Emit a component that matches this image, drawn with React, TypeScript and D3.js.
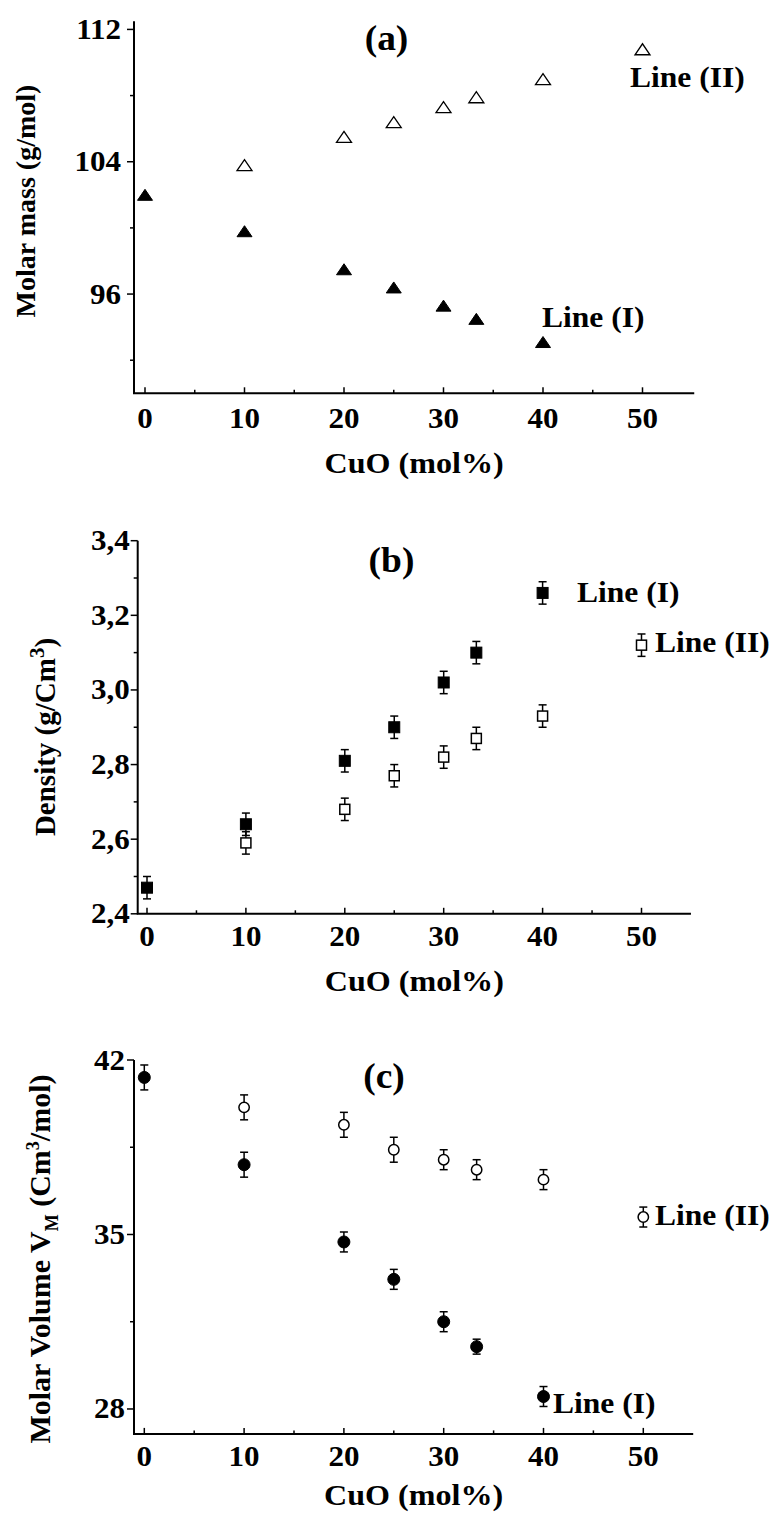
import React from "react";
import * as d3 from "d3";

// ---------------- DATA ----------------
const xTickValues = [0, 10, 20, 30, 40, 50];
const xMinorValues = [5, 15, 25, 35, 45];

// (a) Molar mass
const massXI = [0, 10, 20, 25, 30, 33.3, 40];
const massLineI = [102.0, 99.8, 97.5, 96.4, 95.3, 94.5, 93.1];
const massXII = [10, 20, 25, 30, 33.3, 40, 50];
const massLineII = [103.8, 105.5, 106.4, 107.3, 107.9, 109.0, 110.8];
const massTicks = [96, 104, 112];
const massMinor = [92, 100, 108];

// (b) Density
const densXI = [0, 10, 20, 25, 30, 33.3, 40];
const densLineI = [2.47, 2.64, 2.81, 2.9, 3.02, 3.1, 3.26];
const densErrI = [0.03, 0.03, 0.03, 0.03, 0.03, 0.03, 0.03];
const densXII = [10, 20, 25, 30, 33.3, 40, 50];
const densLineII = [2.59, 2.68, 2.77, 2.82, 2.87, 2.93, 3.12];
const densErrII = [0.03, 0.03, 0.03, 0.03, 0.03, 0.03, 0.03];
const densTicks = [2.4, 2.6, 2.8, 3.0, 3.2, 3.4];
const densTickLabels = ["2,4", "2,6", "2,8", "3,0", "3,2", "3,4"];
const densMinor = [2.5, 2.7, 2.9, 3.1, 3.3];

// (c) Molar volume
const volXI = [0, 10, 20, 25, 30, 33.3, 40];
const volLineI = [41.3, 37.8, 34.7, 33.2, 31.5, 30.5, 28.5];
const volErrI = [0.5, 0.5, 0.4, 0.4, 0.4, 0.3, 0.4];
const volXII = [10, 20, 25, 30, 33.3, 40, 50];
const volLineII = [40.1, 39.4, 38.4, 38.0, 37.6, 37.2, 35.7];
const volErrII = [0.5, 0.5, 0.5, 0.4, 0.4, 0.4, 0.4];
const volTicks = [28, 35, 42];
const volMinor = [31.5, 38.5];

// ---------------- STYLE ----------------
const FONT = "'Liberation Serif', 'Times New Roman', serif";
const SX = 1.07; // horizontal stretch of the reference lettering

type Marker = "triUp" | "square" | "circle";

function MarkerShape({ type, filled, cx, cy }: { type: Marker; filled: boolean; cx: number; cy: number }) {
  const fill = filled ? "#000" : "#fff";
  if (type === "triUp") {
    const w = 15;
    const h = 11;
    const p = `M${cx - w / 2},${cy + h / 2}L${cx + w / 2},${cy + h / 2}L${cx},${cy - h / 2}Z`;
    return <path d={p} fill={fill} stroke="#000" strokeWidth={filled ? 1 : 1.3} />;
  }
  if (type === "square") {
    const s = filled ? 11 : 10;
    return <rect x={cx - s / 2} y={cy - s / 2} width={s} height={s} fill={fill} stroke="#000" strokeWidth={filled ? 1 : 1.5} />;
  }
  return <circle cx={cx} cy={cy} r={filled ? 6 : 5.2} fill={fill} stroke="#000" strokeWidth={filled ? 1 : 1.5} />;
}

function Txt({ x, y, size, children, anchor }: { x: number; y: number; size: number; children: React.ReactNode; anchor?: string }) {
  return (
    <text
      transform={`translate(${x},${y}) scale(${SX},1)`}
      fontFamily={FONT}
      fontWeight="bold"
      fontSize={size}
      textAnchor={anchor || "start"}
    >
      {children}
    </text>
  );
}

interface Series {
  xs: number[];
  ys: number[];
  errs?: number[];
  marker: Marker;
  filled: boolean;
}

interface PanelProps {
  yAxisX: number;
  zeroPx: number;
  fiftyPx: number;
  xEnd: number;
  yDomain: [number, number];
  yRange: [number, number];
  axisTop: number;
  ticks: number[];
  tickLabels: string[];
  minor: number[];
  yLabelOffset: number;
  xLabelDy: number;
  titleY: number;
  series: Series[];
  children?: React.ReactNode;
}

function Panel(p: PanelProps) {
  const x = d3.scaleLinear().domain([0, 50]).range([p.zeroPx, p.fiftyPx]);
  const y = d3.scaleLinear().domain(p.yDomain).range(p.yRange);
  const baseY = y(p.yDomain[0]);
  const xRight = x(p.xEnd);
  return (
    <g>
      <path d={`M${p.yAxisX},${y(p.axisTop)}V${baseY}H${xRight}`} fill="none" stroke="#000" strokeWidth={2} />
      {p.ticks.map((t, i) => (
        <g key={"yt" + i}>
          <line x1={p.yAxisX - 7} x2={p.yAxisX} y1={y(t)} y2={y(t)} stroke="#000" strokeWidth={1.5} />
          <Txt x={p.yAxisX - p.yLabelOffset} y={y(t) + 9.5} size={29} anchor="end">
            {p.tickLabels[i]}
          </Txt>
        </g>
      ))}
      {p.minor.map((t, i) => (
        <line key={"ym" + i} x1={p.yAxisX - 4} x2={p.yAxisX} y1={y(t)} y2={y(t)} stroke="#000" strokeWidth={1.5} />
      ))}
      {xTickValues.map((t, i) => (
        <g key={"xt" + i}>
          <line x1={x(t)} x2={x(t)} y1={baseY} y2={baseY - 6} stroke="#000" strokeWidth={1.5} />
          <Txt x={x(t)} y={baseY + p.xLabelDy} size={29} anchor="middle">
            {String(t)}
          </Txt>
        </g>
      ))}
      {xMinorValues.map((t, i) => (
        <line key={"xm" + i} x1={x(t)} x2={x(t)} y1={baseY} y2={baseY - 3.5} stroke="#000" strokeWidth={1.5} />
      ))}
      <Txt x={(p.yAxisX + xRight) / 2} y={p.titleY} size={30} anchor="middle">
        CuO (mol%)
      </Txt>
      {p.series.map((s, si) => (
        <g key={"s" + si}>
          {s.xs.map((xv, i) => {
            const cx = x(xv);
            const cy = y(s.ys[i]);
            const e = s.errs ? s.errs[i] : 0;
            return (
              <g key={i}>
                {e > 0 && (
                  <g stroke="#000" strokeWidth={1.5}>
                    <line x1={cx} x2={cx} y1={y(s.ys[i] - e)} y2={y(s.ys[i] + e)} />
                    <line x1={cx - 4} x2={cx + 4} y1={y(s.ys[i] - e)} y2={y(s.ys[i] - e)} />
                    <line x1={cx - 4} x2={cx + 4} y1={y(s.ys[i] + e)} y2={y(s.ys[i] + e)} />
                  </g>
                )}
                <MarkerShape type={s.marker} filled={s.filled} cx={cx} cy={cy} />
              </g>
            );
          })}
        </g>
      ))}
      {p.children}
    </g>
  );
}

export default function App() {
  return (
    <svg width={775} height={1514} style={{ position: "absolute", left: 0, top: 0, background: "#fff" }}>
      <rect x={0} y={0} width={775} height={1514} fill="#fff" />
      {/* (a) */}
      <Panel
        yAxisX={134}
        zeroPx={145}
        fiftyPx={642.5}
        xEnd={55.2}
        yDomain={[90, 112.5]}
        yRange={[393.3, 393.3 - 22.5 * 16.54]}
        axisTop={112.5}
        ticks={massTicks}
        tickLabels={massTicks.map(String)}
        minor={massMinor}
        yLabelOffset={13}
        xLabelDy={35}
        titleY={473}
        series={[
          { xs: massXI, ys: massLineI, marker: "triUp", filled: true },
          { xs: massXII, ys: massLineII, marker: "triUp", filled: false },
        ]}
      >
        <Txt x={386.5} y={50} size={35} anchor="middle">(a)</Txt>
        <Txt x={630} y={87} size={29.5}>Line (II)</Txt>
        <Txt x={542} y={327} size={29.5}>Line (I)</Txt>
        <text transform="translate(35,201) rotate(-90)" textAnchor="middle" fontFamily={FONT} fontWeight="bold" fontSize={28}>
          Molar mass (g/mol)
        </text>
      </Panel>

      {/* (b) */}
      <Panel
        yAxisX={137.7}
        zeroPx={147}
        fiftyPx={641.5}
        xEnd={55}
        yDomain={[2.4, 3.4]}
        yRange={[913.8, 540.7]}
        axisTop={3.4}
        ticks={densTicks}
        tickLabels={densTickLabels}
        minor={densMinor}
        yLabelOffset={8}
        xLabelDy={32}
        titleY={991}
        series={[
          { xs: densXI, ys: densLineI, errs: densErrI, marker: "square", filled: true },
          { xs: densXII, ys: densLineII, errs: densErrII, marker: "square", filled: false },
        ]}
      >
        <Txt x={391.5} y={572} size={35} anchor="middle">(b)</Txt>
        <Txt x={577} y={602} size={29.5}>Line (I)</Txt>
        <Txt x={655} y={652} size={29.5}>Line (II)</Txt>
        <text transform="translate(55,737) rotate(-90)" textAnchor="middle" fontFamily={FONT} fontWeight="bold" fontSize={29}>
          Density (g/Cm
          <tspan dy={-11} fontSize={21}>3</tspan>
          <tspan dy={11}>)</tspan>
        </text>
      </Panel>

      {/* (c) */}
      <Panel
        yAxisX={134}
        zeroPx={144.3}
        fiftyPx={643.3}
        xEnd={55}
        yDomain={[27, 42]}
        yRange={[1433.9, 1060]}
        axisTop={42}
        ticks={volTicks}
        tickLabels={volTicks.map(String)}
        minor={volMinor}
        yLabelOffset={9}
        xLabelDy={32}
        titleY={1505}
        series={[
          { xs: volXI, ys: volLineI, errs: volErrI, marker: "circle", filled: true },
          { xs: volXII, ys: volLineII, errs: volErrII, marker: "circle", filled: false },
        ]}
      >
        <Txt x={384} y={1088} size={35} anchor="middle">(c)</Txt>
        <Txt x={655} y={1225} size={29.5}>Line (II)</Txt>
        <Txt x={553} y={1413} size={29.5}>Line (I)</Txt>
        <text transform="translate(50,1259) rotate(-90)" textAnchor="middle" fontFamily={FONT} fontWeight="bold" fontSize={30}>
          Molar Volume V
          <tspan dy={8} fontSize={18}>M</tspan>
          <tspan dy={-8}> (Cm</tspan>
          <tspan dy={-11} fontSize={18}>3</tspan>
          <tspan dy={11}>/mol)</tspan>
        </text>
      </Panel>
    </svg>
  );
}
